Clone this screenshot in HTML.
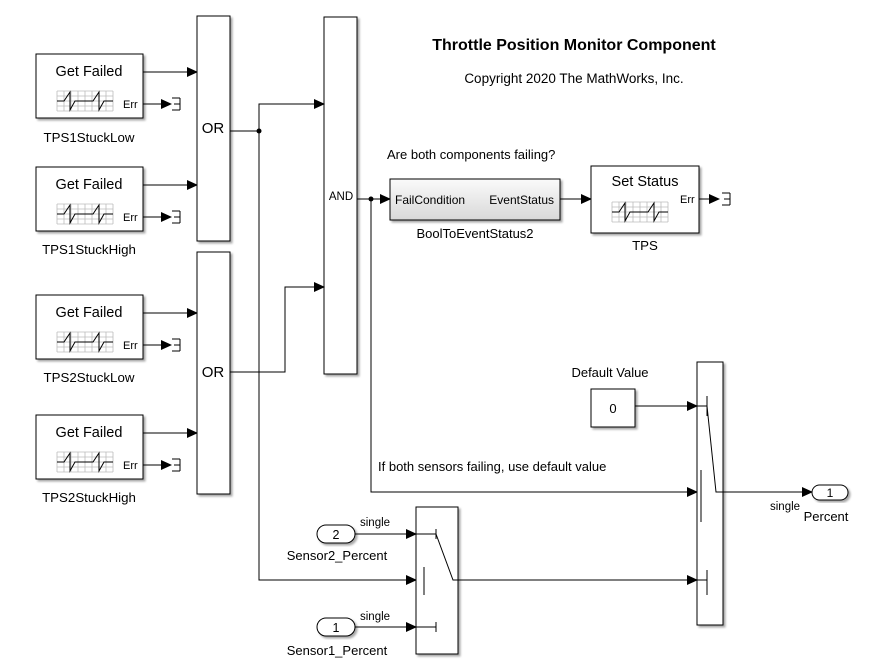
<!DOCTYPE html>
<html><head><meta charset="utf-8"><style>
html,body{margin:0;padding:0;background:#fff;}
svg{display:block;font-family:"Liberation Sans","DejaVu Sans",sans-serif;}
</style></head><body>
<svg width="878" height="670" viewBox="0 0 878 670" xmlns="http://www.w3.org/2000/svg">
<defs>
<marker id="a" markerWidth="11" markerHeight="10" refX="10" refY="5" orient="auto" markerUnits="userSpaceOnUse"><path d="M0,0 L11,5 L0,10z" fill="#000"/></marker>
<linearGradient id="g" x1="0" y1="0" x2="0" y2="1"><stop offset="0" stop-color="#fafafa"/><stop offset="1" stop-color="#d8d8d8"/></linearGradient>
<filter id="s" x="-10%" y="-10%" width="130%" height="130%"><feDropShadow dx="2" dy="2" stdDeviation="1" flood-color="#000" flood-opacity="0.35"/></filter>
<g id="scope">
<g stroke="#bbb" stroke-width="0.8">
<line x1="0" y1="0" x2="56" y2="0"/><line x1="0" y1="5" x2="56" y2="5"/><line x1="0" y1="10" x2="56" y2="10"/><line x1="0" y1="15" x2="56" y2="15"/><line x1="0" y1="20" x2="56" y2="20"/>
<line x1="0" y1="0" x2="0" y2="20"/><line x1="7" y1="0" x2="7" y2="20"/><line x1="14" y1="0" x2="14" y2="20"/><line x1="21" y1="0" x2="21" y2="20"/><line x1="28" y1="0" x2="28" y2="20"/><line x1="35" y1="0" x2="35" y2="20"/><line x1="42" y1="0" x2="42" y2="20"/><line x1="49" y1="0" x2="49" y2="20"/><line x1="56" y1="0" x2="56" y2="20"/>
</g>
<path d="M0,10 L7,10 L13,1 L13,19 L18,10 L36,10 L42,1 L42,19 L47,10 L56,10" fill="none" stroke="#000" stroke-width="1"/>
</g>
<g id="term" stroke="#000" fill="none"><line x1="0" y1="-6" x2="8" y2="-6"/><line x1="0" y1="6" x2="8" y2="6"/><line x1="8" y1="-6" x2="8" y2="6"/><line x1="2" y1="0" x2="8" y2="0"/></g>
</defs>

<text x="574" y="50" font-size="16" font-weight="bold" text-anchor="middle">Throttle Position Monitor Component</text>
<text x="574" y="83" font-size="13.5" text-anchor="middle">Copyright 2020 The MathWorks, Inc.</text>

<g font-size="14.5">
<g>
<rect x="36" y="54" width="107" height="64" fill="#fff" stroke="#000" filter="url(#s)"/>
<text x="89" y="76" text-anchor="middle">Get Failed</text>
<use href="#scope" x="57" y="91"/>
<text x="123" y="108" font-size="11">Err</text>
<text x="89" y="142" text-anchor="middle" font-size="13.3">TPS1StuckLow</text>
</g>
<g transform="translate(0,113)">
<rect x="36" y="54" width="107" height="64" fill="#fff" stroke="#000" filter="url(#s)"/>
<text x="89" y="76" text-anchor="middle">Get Failed</text>
<use href="#scope" x="57" y="91"/>
<text x="123" y="108" font-size="11">Err</text>
<text x="89" y="141" text-anchor="middle" font-size="13.3">TPS1StuckHigh</text>
</g>
<g transform="translate(0,241)">
<rect x="36" y="54" width="107" height="64" fill="#fff" stroke="#000" filter="url(#s)"/>
<text x="89" y="76" text-anchor="middle">Get Failed</text>
<use href="#scope" x="57" y="91"/>
<text x="123" y="108" font-size="11">Err</text>
<text x="89" y="141" text-anchor="middle" font-size="13.3">TPS2StuckLow</text>
</g>
<g transform="translate(0,361)">
<rect x="36" y="54" width="107" height="64" fill="#fff" stroke="#000" filter="url(#s)"/>
<text x="89" y="76" text-anchor="middle">Get Failed</text>
<use href="#scope" x="57" y="91"/>
<text x="123" y="108" font-size="11">Err</text>
<text x="89" y="141" text-anchor="middle" font-size="13.3">TPS2StuckHigh</text>
</g>
</g>

<g stroke="#000" stroke-width="1" fill="none">
<line x1="143" y1="72" x2="197" y2="72" marker-end="url(#a)"/>
<line x1="143" y1="185" x2="197" y2="185" marker-end="url(#a)"/>
<line x1="143" y1="313" x2="197" y2="313" marker-end="url(#a)"/>
<line x1="143" y1="433" x2="197" y2="433" marker-end="url(#a)"/>
<line x1="143" y1="104" x2="171" y2="104" marker-end="url(#a)"/>
<line x1="143" y1="217" x2="171" y2="217" marker-end="url(#a)"/>
<line x1="143" y1="345" x2="171" y2="345" marker-end="url(#a)"/>
<line x1="143" y1="465" x2="171" y2="465" marker-end="url(#a)"/>
</g>
<use href="#term" x="172" y="104"/><use href="#term" x="172" y="217"/><use href="#term" x="172" y="345"/><use href="#term" x="172" y="465"/>

<rect x="197" y="16" width="33" height="225" fill="#fff" stroke="#000" filter="url(#s)"/>
<text x="213" y="133" font-size="15" text-anchor="middle">OR</text>
<rect x="197" y="252" width="33" height="242" fill="#fff" stroke="#000" filter="url(#s)"/>
<text x="213" y="377" font-size="15" text-anchor="middle">OR</text>

<rect x="324" y="17" width="33" height="357" fill="#fff" stroke="#000" filter="url(#s)"/>
<text x="341" y="200" font-size="11.5" text-anchor="middle">AND</text>

<g stroke="#000" fill="none">
<polyline points="230,131 259,131 259,104 324,104" marker-end="url(#a)"/>
<polyline points="259,131 259,580 416,580" marker-end="url(#a)"/>
<polyline points="230,372 285,372 285,287 324,287" marker-end="url(#a)"/>
<line x1="357" y1="199" x2="390" y2="199" marker-end="url(#a)"/>
<polyline points="371,199 371,492 697,492" marker-end="url(#a)"/>
<line x1="560" y1="199" x2="591" y2="199" marker-end="url(#a)"/>
<line x1="699" y1="199" x2="719" y2="199" marker-end="url(#a)"/>
<line x1="635" y1="406" x2="697" y2="406" marker-end="url(#a)"/>
<line x1="458" y1="580" x2="697" y2="580" marker-end="url(#a)"/>
<line x1="723" y1="492" x2="812" y2="492" marker-end="url(#a)"/>
<line x1="355" y1="534" x2="416" y2="534" marker-end="url(#a)"/>
<line x1="355" y1="627" x2="416" y2="627" marker-end="url(#a)"/>
</g>
<circle cx="259" cy="131" r="2.5"/>
<circle cx="371" cy="199" r="2.5"/>
<use href="#term" x="722" y="199"/>

<text x="387" y="159" font-size="13">Are both components failing?</text>

<rect x="390" y="179" width="170" height="41" fill="url(#g)" stroke="#000" filter="url(#s)"/>
<text x="395" y="204" font-size="12">FailCondition</text>
<text x="554" y="204" font-size="12" text-anchor="end">EventStatus</text>
<text x="475" y="238" font-size="13" text-anchor="middle">BoolToEventStatus2</text>

<rect x="591" y="166" width="108" height="67" fill="#fff" stroke="#000" filter="url(#s)"/>
<text x="645" y="186" font-size="14.5" text-anchor="middle">Set Status</text>
<use href="#scope" x="612" y="202"/>
<text x="680" y="203" font-size="11">Err</text>
<text x="645" y="250" font-size="13.3" text-anchor="middle">TPS</text>

<text x="610" y="377" font-size="13" text-anchor="middle">Default Value</text>
<rect x="591" y="389" width="44" height="38" fill="#fff" stroke="#000" filter="url(#s)"/>
<text x="613" y="413" font-size="13" text-anchor="middle">0</text>

<text x="378" y="471" font-size="13">If both sensors failing, use default value</text>

<rect x="697" y="362" width="26" height="263" fill="#fff" stroke="#000" filter="url(#s)"/>
<g stroke="#000" fill="none">
<line x1="697" y1="406" x2="707" y2="406"/><line x1="707" y1="396" x2="707" y2="416"/>
<line x1="701" y1="470" x2="701" y2="522"/>
<line x1="697" y1="580" x2="707" y2="580"/><line x1="707" y1="570" x2="707" y2="595"/>
<polyline points="707,406 716,492 723,492"/>
</g>

<rect x="812" y="485" width="36" height="15" rx="7.5" fill="#fff" stroke="#000" filter="url(#s)"/>
<text x="830" y="497" font-size="12" text-anchor="middle">1</text>
<text x="770" y="510" font-size="11.5">single</text>
<text x="826" y="521" font-size="13" text-anchor="middle">Percent</text>

<rect x="416" y="507" width="42" height="147" fill="#fff" stroke="#000" filter="url(#s)"/>
<g stroke="#000" fill="none">
<line x1="416" y1="534" x2="436" y2="534"/><line x1="436" y1="529" x2="436" y2="539"/>
<line x1="424" y1="567" x2="424" y2="595"/>
<line x1="416" y1="627" x2="436" y2="627"/><line x1="436" y1="622" x2="436" y2="632"/>
<polyline points="436,534 453,580 458,580"/>
</g>

<rect x="317" y="525" width="38" height="18" rx="9" fill="#fff" stroke="#000" filter="url(#s)"/>
<text x="336" y="539" font-size="12.5" text-anchor="middle">2</text>
<text x="360" y="526" font-size="11.5">single</text>
<text x="337" y="560" font-size="13" text-anchor="middle">Sensor2_Percent</text>
<rect x="317" y="618" width="38" height="18" rx="9" fill="#fff" stroke="#000" filter="url(#s)"/>
<text x="336" y="632" font-size="12.5" text-anchor="middle">1</text>
<text x="360" y="620" font-size="11.5">single</text>
<text x="337" y="655" font-size="13" text-anchor="middle">Sensor1_Percent</text>
</svg>
</body></html>
